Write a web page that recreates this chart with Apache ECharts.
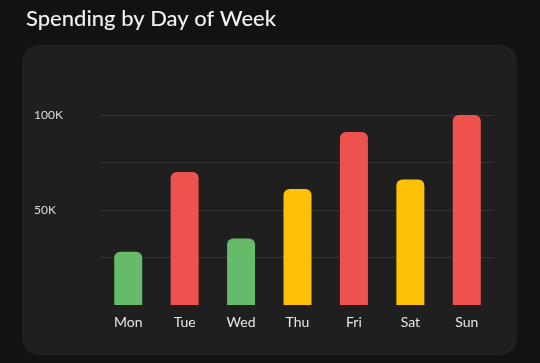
<!DOCTYPE html>
<html>
<head>
<meta charset="utf-8">
<script src="https://cdn.jsdelivr.net/npm/echarts@6/dist/echarts.min.js"></script>
<style>
  html, body { margin: 0; padding: 0; background: #121212; }
  #chart { width: 540px; height: 363px; }
</style>
</head>
<body>
<div id="chart"></div>
<script>
const days = ["Mon", "Tue", "Wed", "Thu", "Fri", "Sat", "Sun"];
const spending = [28000, 70000, 35000, 61000, 91000, 66000, 100000];
const barColors = ["#66BB6A", "#EF5350", "#66BB6A", "#FFC107", "#EF5350", "#FFC107", "#EF5350"];
const yTicks = [50000, 100000];

const chart = echarts.init(document.getElementById("chart"));

const option = {
  backgroundColor: "#121212",
  title: {
    text: "Spending by Day of Week",
    left: 21,
    top: 3,
    textStyle: { color: "#f0f0f0", fontSize: 22, fontWeight: 500, fontFamily: "Lato" }
  },
  graphic: [
    {
      type: "rect",
      z: -10,
      shape: { x: 22, y: 45, width: 495, height: 310, r: 16 },
      style: { fill: "#1f1f1f" }
    }
  ],
  grid: { left: 100, right: 45, top: 115, bottom: 58 },
  xAxis: {
    type: "category",
    data: days,
    axisLine: { show: false },
    axisTick: { show: false },
    axisLabel: { color: "#e6e6e6", fontSize: 14, margin: 10, fontFamily: "Lato" }
  },
  yAxis: {
    type: "value",
    min: 0,
    max: 100000,
    interval: 25000,
    axisLine: { show: false },
    axisTick: { show: false },
    axisLabel: {
      color: "#dddddd",
      fontSize: 12,
      fontFamily: "Lato",
      align: "left",
      margin: 66,
      padding: [0, 0, 4, 0],
      formatter: v => yTicks.includes(v) ? v / 1000 + "K" : ""
    },
    splitLine: { showMinLine: false, lineStyle: { color: "#333333", width: 1 } }
  },
  series: [
    {
      type: "bar",
      data: spending.map((v, i) => ({ value: v, itemStyle: { color: barColors[i] } })),
      barWidth: 28,
      itemStyle: { borderRadius: [6, 6, 0, 0] }
    }
  ]
};

chart.setOption(option);
</script>
</body>
</html>
